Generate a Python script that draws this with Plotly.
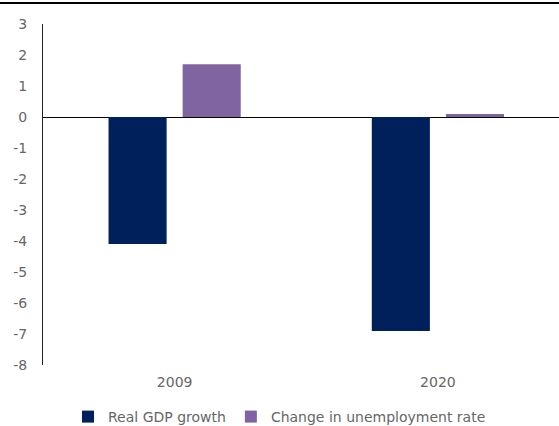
import plotly.graph_objects as go

categories = ["2009", "2020"]
gdp_growth = [-4.1, -6.9]
unemp_change = [1.7, 0.1]
y_ticks = [3, 2, 1, 0, -1, -2, -3, -4, -5, -6, -7, -8]
y_tick_text = ["3", "2", "1", "0", "-1", "-2", "-3", "-4", "-5", "-6", "-7", "-8"]

W, H = 559, 426
ml, mr, mt, mb = 43, 0, 24, 61
pw = W - ml - mr
ph = H - mt - mb

fig = go.Figure()
fig.add_trace(go.Bar(x=categories, y=gdp_growth, name="Real GDP growth",
                     marker=dict(color="#00205B", line=dict(width=0))))
fig.add_trace(go.Bar(x=categories, y=unemp_change, name="Change in unemployment rate",
                     marker=dict(color="#8064A2", line=dict(width=0))))

fig.update_layout(
    width=W, height=H,
    margin=dict(l=ml, r=mr, t=mt, b=mb, autoexpand=False),
    paper_bgcolor="white", plot_bgcolor="white",
    barmode="group", bargap=0.437, bargroupgap=0.216,
    font=dict(family="DejaVu Sans", size=14, color="#666666"),
    showlegend=True,
    legend=dict(orientation="h", x=0.5, xanchor="center", xref="container",
                y=(H - 417) / H, yanchor="middle", yref="container",
                font=dict(size=14, color="#666666"), itemwidth=30,
                tracegroupgap=0),
    xaxis=dict(type="category", range=[-0.5, 1.46], showline=False,
               showgrid=False, ticks="", automargin=False,
               ticklabelstandoff=7,
               tickfont=dict(size=14, color="#666666")),
    yaxis=dict(range=[-8, 3], tickvals=y_ticks, ticktext=y_tick_text,
               showgrid=False, automargin=False,
               showline=True, linecolor="#222222", linewidth=1,
               zeroline=True, zerolinecolor="#000000", zerolinewidth=1,
               ticks="", ticklabelstandoff=12,
               tickfont=dict(size=14, color="#666666")),
    shapes=[dict(type="line", xref="paper", yref="paper",
                 x0=-ml / pw, x1=1, y0=(365 - 3) / ph, y1=(365 - 3) / ph,
                 line=dict(color="#000000", width=2))],
)

fig.write_html("out.html")
